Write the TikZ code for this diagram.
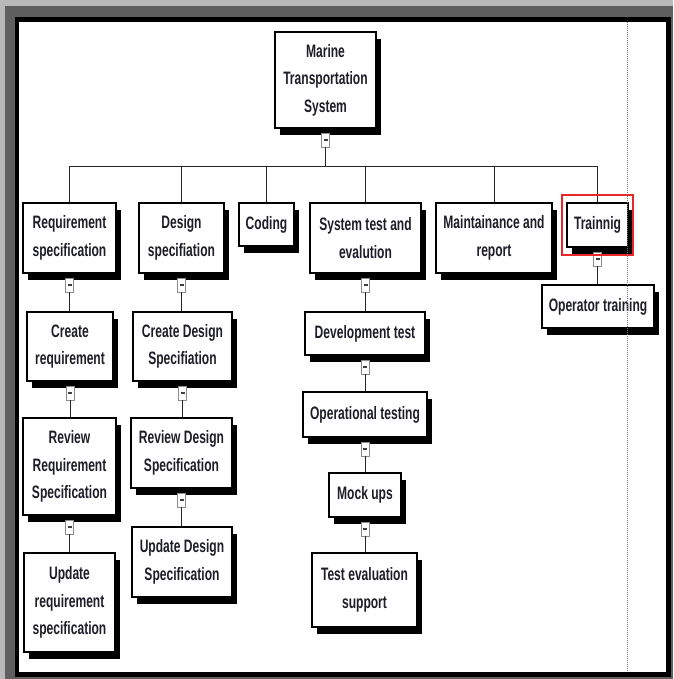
\documentclass[tikz,border=0pt]{standalone}
\usepackage{fontspec}
\setmainfont{Liberation Sans}[UprightFont=* Bold, FakeStretch=0.67]
\usetikzlibrary{shadows}
\definecolor{lgray}{RGB}{185,185,185}
\definecolor{dgray}{RGB}{95,95,95}
\definecolor{selred}{RGB}{232,40,40}
\definecolor{ink}{RGB}{30,30,40}
\begin{document}
\begin{tikzpicture}[x=1pt,y=-1pt,
  wbs/.style={draw=black, fill=white, line width=1.3pt, inner sep=0pt,
    align=center, text=ink, font=\fontsize{18}{27.5}\selectfont,
    drop shadow={shadow xshift=5pt, shadow yshift=-7pt, fill=black, opacity=1}},
  tog/.style={draw=black!45, fill=white, line width=0.8pt, inner sep=0pt,
    minimum width=8pt, minimum height=14pt,
    path picture={\draw[line width=1.2pt, black!75]
      ([xshift=-2pt]path picture bounding box.center) --
      ([xshift=2pt]path picture bounding box.center);}},
  conn/.style={draw=black!85, line width=1pt}]
\useasboundingbox (0,0) rectangle (673,679);
% window frame
\fill[lgray] (0,0) rectangle (673,679);
\fill[dgray] (5,6) rectangle (673,679);
\fill[black] (15,17) rectangle (671,677);
\fill[white] (19,22) rectangle (666,672);

% root
\node[wbs, minimum width=101pt, minimum height=96pt] (root) at (325.5,80)
  {Marine\\Transportation\\System};

% first level
\node[wbs, minimum width=93pt,  minimum height=70pt] (req) at (69.5,238)  {Requirement\\specification};
\node[wbs, minimum width=85pt,  minimum height=70pt] (des) at (181.5,238) {Design\\specifiation};
\node[wbs, minimum width=55pt,  minimum height=43pt] (cod) at (266.5,224.5) {Coding};
\node[wbs, minimum width=111pt, minimum height=70pt] (sys) at (365.5,238) {System test and\\evalution};
\node[wbs, minimum width=116pt, minimum height=70pt] (mnt) at (494,238)   {Maintainance and\\report};
\node[wbs, minimum width=61pt,  minimum height=44pt] (trn) at (597.5,225) {Trainnig};

% requirement branch
\node[wbs, minimum width=86pt, minimum height=69pt] (creq) at (70,346.5)  {Create\\requirement};
\node[wbs, minimum width=93pt, minimum height=97pt] (rreq) at (69.5,466.5) {Review\\Requirement\\Specification};
\node[wbs, minimum width=91pt, minimum height=99pt] (ureq) at (69.5,602.5) {Update\\requirement\\specification};

% design branch
\node[wbs, minimum width=99pt,  minimum height=69pt] (cdes) at (182.5,346.5) {Create Design\\Specifiation};
\node[wbs, minimum width=101pt, minimum height=70pt] (rdes) at (181.5,453)   {Review Design\\Specification};
\node[wbs, minimum width=100pt, minimum height=70pt] (udes) at (182,562)     {Update Design\\Specification};

% test branch
\node[wbs, minimum width=120pt, minimum height=43pt] (dev)  at (365,333.5) {Development test};
\node[wbs, minimum width=124pt, minimum height=45pt] (ops)  at (365,414.5) {Operational testing};
\node[wbs, minimum width=72pt,  minimum height=44pt] (mock) at (365,495)   {Mock ups};
\node[wbs, minimum width=105pt, minimum height=74pt] (tes)  at (364.5,590) {Test evaluation\\support};

% training branch
\node[wbs, minimum width=112pt, minimum height=43pt] (opt) at (598,306.5) {Operator training};

% collapse toggles under each parent
\foreach \p in {root,req,des,sys,trn,creq,cdes,rreq,rdes,dev,ops,mock}
  \node[tog, anchor=north] (\p-m) at ([yshift=-4pt]\p.south) {};

% connectors
\coordinate (bus) at (325.5,167);
\draw[conn] (root-m.south) -- (bus);
\foreach \c in {req,des,cod,sys,mnt,trn}
  \draw[conn] (\c.north) |- (bus);
\foreach \p/\c in {req/creq,creq/rreq,rreq/ureq,des/cdes,cdes/rdes,rdes/udes,
                   sys/dev,dev/ops,ops/mock,mock/tes,trn/opt}
  \draw[conn] (\p-m.south) -- (\p-m.south |- \c.north);

% selection outline and page guide
\draw[selred, line width=1.1pt] (562,195) rectangle (633,255);
\draw[black!55, line width=1pt, dash pattern=on 1pt off 1pt] (627.5,22) -- (627.5,672);
\end{tikzpicture}
\end{document}
